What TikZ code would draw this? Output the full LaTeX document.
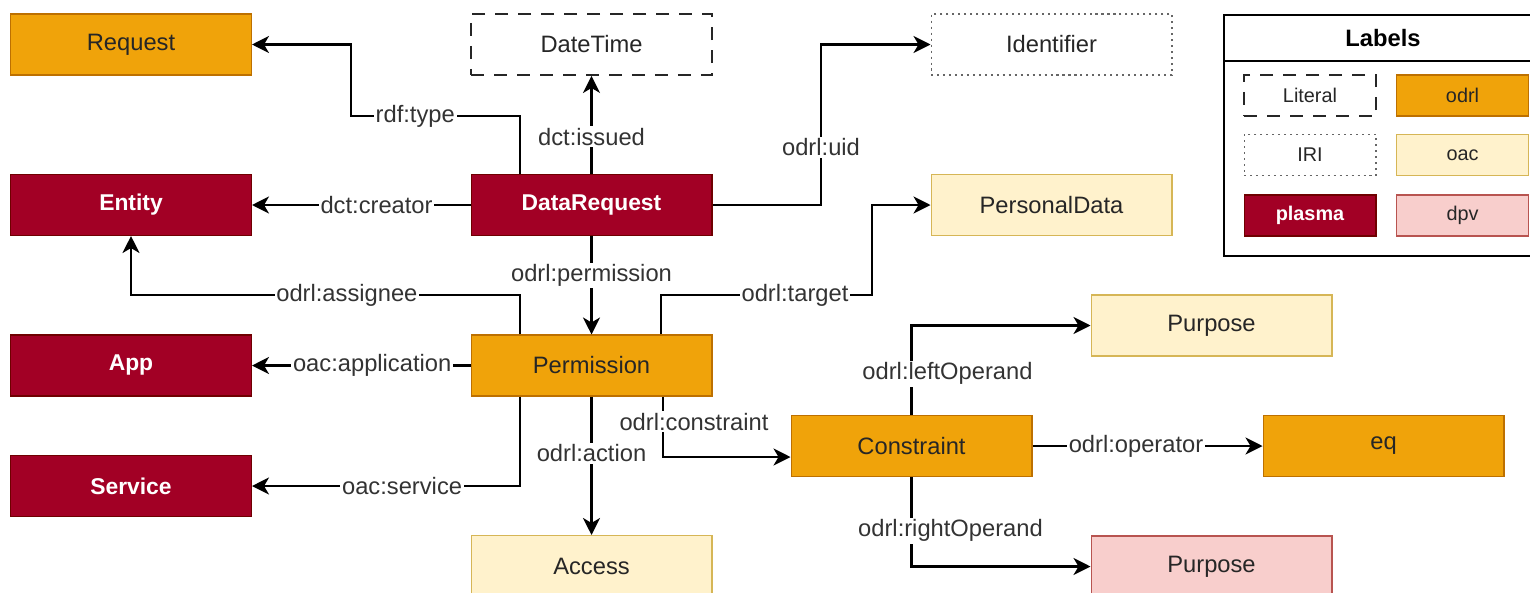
\documentclass[tikz,border=0pt]{standalone}
\usepackage{fontspec}
\setmainfont{Liberation Sans}
\usetikzlibrary{arrows.meta, positioning}

\definecolor{odrlfill}{HTML}{F0A30A}
\definecolor{odrldraw}{HTML}{BD7000}
\definecolor{oacfill}{HTML}{FFF2CC}
\definecolor{oacdraw}{HTML}{D6B656}
\definecolor{dpvfill}{HTML}{F8CECC}
\definecolor{dpvdraw}{HTML}{B85450}
\definecolor{plasmafill}{HTML}{A20025}
\definecolor{plasmadraw}{HTML}{6F0000}
\definecolor{labelgray}{HTML}{333333}

\newcommand{\bigtext}{\fontsize{13.5}{16}\selectfont}
\newcommand{\smalltext}{\fontsize{11.3}{13}\selectfont}

\tikzset{
  box/.style={draw, minimum width=4.82cm, minimum height=1.22cm, inner sep=0pt, line width=0.6pt, font=\bigtext, text=black!85},
  odrl/.style={box, fill=odrlfill, draw=odrldraw},
  oac/.style={box, fill=oacfill, draw=oacdraw},
  dpv/.style={box, fill=dpvfill, draw=dpvdraw},
  plasma/.style={box, fill=plasmafill, draw=plasmadraw, text=white, font=\fontsize{13}{16}\selectfont\bfseries},
  literal/.style={box, draw=black!85, line width=1.1pt, dash pattern=on 0.26cm off 0.2cm},
  iri/.style={box, draw=black!60, line width=0.6pt, dash pattern=on 1.2pt off 2.2pt},
  keybox/.style={minimum width=2.64cm, minimum height=0.82cm, font=\smalltext},
  link/.style={line width=1.3pt, -{Stealth[length=0.34cm, width=0.34cm, inset=0.1cm]}},
  lbl/.style={fill=white, inner sep=1pt, font=\bigtext, text=labelgray}
}

\begin{document}
\begin{tikzpicture}[x=0.02cm, y=-0.02cm]
\useasboundingbox (0,0) rectangle (1530,592);
\clip (0,0) rectangle (1530,592);

\node[odrl] (request) at (131,44.5) {Request};
\node[literal] (datetime) at (591.5,44.5) {DateTime};
\node[iri] (identifier) at (1051.5,44.5) {Identifier};
\node[plasma] (entity) at (131,205) {Entity};
\node[plasma] (datareq) at (591.5,205) {DataRequest};
\node[oac] (personal) at (1051.5,205) {PersonalData};
\node[plasma] (app) at (131,365.5) {App};
\node[odrl] (permission) at (591.5,365.5) {Permission};
\node[oac] (purpose) at (1211.5,325.5) {Purpose};
\node[odrl] (constraint) at (911.5,446) {Constraint};
\node[odrl] (eq) at (1383.5,446) {eq};
\node[plasma] (service) at (131,486) {Service};
\node[oac] (access) at (591.5,566) {Access};
\node[dpv] (purposedpv) at (1211.5,566.5) {Purpose};

\draw[line width=1.1pt] (1540,15) -| (1224,256) -- (1540,256);
\draw[line width=1.1pt] (1224,61) -- (1540,61);
\node[font=\bigtext\bfseries] (labels) at (1383,38) {Labels};
\node[literal, keybox, line width=1pt] (keyliteral) at (1310,95.5) {Literal};
\node[odrl, keybox] (keyodrl) at (1462.5,95.5) {odrl};
\node[iri, keybox] (keyiri) at (1310,155) {IRI};
\node[oac, keybox] (keyoac) at (1462.5,155) {oac};
\node[plasma, keybox, font=\smalltext\bfseries] (keyplasma) at (1310,215.5) {plasma};
\node[dpv, keybox] (keydpv) at (1462.5,215.5) {dpv};

\draw[link] (datareq.north -| 520,0) -- (520,116) -- node[lbl, pos=0.62] {rdf:type} (351,116) |- (request.east);
\draw[link] (datareq.north) -- node[lbl, pos=0.38] {dct:issued} (datetime.south);
\draw[link] (datareq.west) -- node[lbl, pos=0.43] {dct:creator} (entity.east);
\draw[link] (datareq.east) -- (821,205) |- node[lbl, pos=0.18] {odrl:uid} (identifier.west);
\draw[link] (datareq.south) -- node[lbl, pos=0.4] {odrl:permission} (permission.north);
\draw[link] (permission.north -| 520,0) -- (520,295) -- node[lbl, pos=0.445] {odrl:assignee} (entity.south |- 0,295) -- (entity.south);
\draw[link] (permission.north -| 661,0) -- (661,295) -- node[lbl, pos=0.635] {odrl:target} (872,295) |- (personal.west);
\draw[link] (permission.west) -- node[lbl, pos=0.45] {oac:application} (app.east);
\draw[link] (permission.south -| 520,0) |- node[lbl, pos=0.72] {oac:service} (service.east);
\draw[link] (permission.south) -- node[lbl, pos=0.41] {odrl:action} (access.north);
\draw[link] (permission.south -| 663,0) |- node[lbl, pos=0.21, xshift=0.62cm] {odrl:constraint} (constraint.west |- 0,457);
\draw[link] (constraint.north) |- node[lbl, pos=0.23, xshift=0.72cm] {odrl:leftOperand} (purpose.west);
\draw[link] (constraint.east) -- node[lbl, pos=0.45] {odrl:operator} (eq.west);
\draw[link] (constraint.south) |- node[lbl, pos=0.3, xshift=0.78cm] {odrl:rightOperand} (purposedpv.west);
\end{tikzpicture}
\end{document}
